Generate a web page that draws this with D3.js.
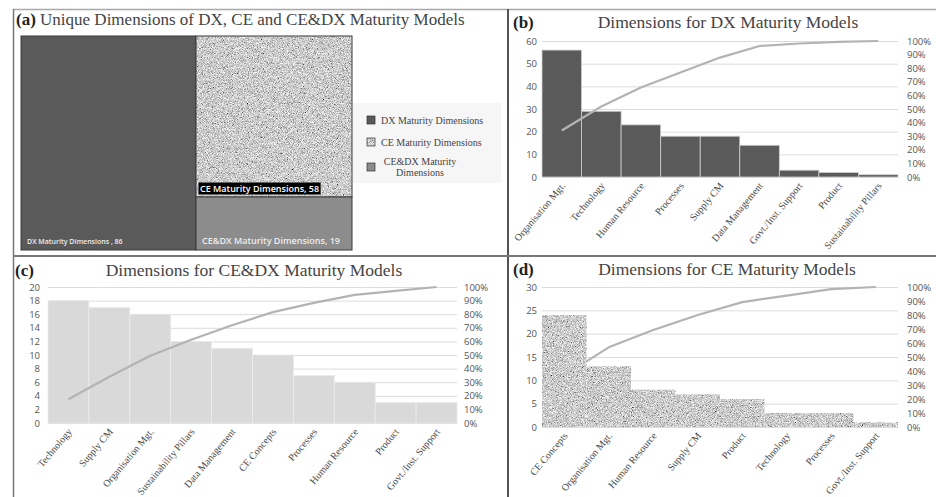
<!DOCTYPE html>
<html>
<head>
<meta charset="utf-8">
<script src="https://cdn.jsdelivr.net/npm/d3@7"></script>
<style>
  body { margin: 0; background: #fff; }
  svg { display: block; }
</style>
</head>
<body>
<div id="chart"></div>
<script>
// ---- data ----
const treeNames = ["DX Maturity Dimensions", "CE Maturity Dimensions", "CE&DX Maturity Dimensions"];
const treeValues = [86, 58, 19];

const dxCats = ["Organisation Mgt.", "Technology", "Human Resource", "Processes", "Supply CM",
  "Data Management", "Govt./Inst. Support", "Product", "Sustainability Pillars"];
const dxCounts = [56, 29, 23, 18, 18, 14, 3, 2, 1];

const cedxCats = ["Technology", "Supply CM", "Organisation Mgt.", "Sustainability Pillars", "Data Management",
  "CE Concepts", "Processes", "Human Resource", "Product", "Govt./Inst. Support"];
const cedxCounts = [18, 17, 16, 12, 11, 10, 7, 6, 3, 3];

const ceCats = ["CE Concepts", "Organisation Mgt.", "Human Resource", "Supply CM", "Product",
  "Technology", "Processes", "Govt./Inst. Support"];
const ceCounts = [24, 13, 8, 7, 6, 3, 3, 1];

const W = 936, H = 497;
const serif = "'Liberation Serif', 'Times New Roman', serif";
const sans = "'Open Sans', 'DejaVu Sans', sans-serif";

const svg = d3.select("#chart").append("svg")
  .attr("width", W).attr("height", H);

svg.append("rect").attr("width", W).attr("height", H).attr("fill", "#fff");

// grainy grey texture used for the CE marks
const defs = svg.append("defs");
const noise = defs.append("filter").attr("id", "grain")
  .attr("x", 0).attr("y", 0).attr("width", 1).attr("height", 1);
noise.append("feTurbulence").attr("type", "fractalNoise")
  .attr("baseFrequency", 1.2).attr("numOctaves", 2).attr("seed", 4).attr("result", "t");
noise.append("feColorMatrix").attr("in", "t").attr("type", "matrix")
  .attr("values", "0.8 0.8 0.8 0 -0.6  0.8 0.8 0.8 0 -0.6  0.8 0.8 0.8 0 -0.6  0 0 0 0 1")
  .attr("result", "g");
noise.append("feComposite").attr("in", "g").attr("in2", "SourceGraphic").attr("operator", "in");

// ---- panel frame ----
svg.append("line").attr("x1", 13).attr("x2", W).attr("y1", 9.5).attr("y2", 9.5)
  .attr("stroke", "#a8a8a8").attr("stroke-width", 1.5);
svg.append("line").attr("x1", 13.5).attr("x2", 13.5).attr("y1", 9).attr("y2", H)
  .attr("stroke", "#777").attr("stroke-width", 1.5);
svg.append("line").attr("x1", 508).attr("x2", 508).attr("y1", 9).attr("y2", H)
  .attr("stroke", "#555").attr("stroke-width", 2);
svg.append("line").attr("x1", 13).attr("x2", W).attr("y1", 256).attr("y2", 256)
  .attr("stroke", "#777").attr("stroke-width", 2.2);

// ---- (a) treemap ----
function drawTreemap() {
  const g = svg.append("g");
  g.append("text").attr("x", 16).attr("y", 25)
    .attr("font-family", serif).attr("font-size", 17)
    .call(t => {
      t.append("tspan").attr("font-weight", "bold").attr("fill", "#222").text("(a)");
      t.append("tspan").attr("fill", "#444").text(" Unique Dimensions of DX, CE and CE&DX Maturity Models");
    });

  const fills = ["#5a5a5a", "#a8a8a8", "#8c8c8c"];
  const root = d3.hierarchy({ children: treeNames.map((n, i) => ({ name: n, value: treeValues[i], i })) })
    .sum(d => d.value || 0);
  d3.treemap().tile(d3.treemapBinary).size([331, 214]).round(true)(root);

  const cells = g.append("g").attr("transform", "translate(21,36)")
    .selectAll("g").data(root.leaves()).join("g");
  cells.append("rect")
    .attr("x", d => d.x0).attr("y", d => d.y0)
    .attr("width", d => d.x1 - d.x0).attr("height", d => d.y1 - d.y0)
    .attr("fill", d => fills[d.data.i])
    .attr("filter", d => d.data.i === 1 ? "url(#grain)" : null);
  cells.append("rect")
    .attr("x", d => d.x0).attr("y", d => d.y0)
    .attr("width", d => d.x1 - d.x0).attr("height", d => d.y1 - d.y0)
    .attr("fill", "none").attr("stroke", "#3a3a3a").attr("stroke-width", 1);

  cells.each(function (d) {
    const c = d3.select(this);
    const label = d.data.i === 0 ? `${d.data.name} , ${d.data.value}` : `${d.data.name}, ${d.data.value}`;
    const t = c.append("text")
      .attr("x", d.x0 + 6).attr("y", d.y1 - 6)
      .attr("font-family", sans).attr("font-weight", 600)
      .attr("font-size", d.data.i === 0 ? 7 : 9)
      .attr("fill", "#ededed").text(label);
    if (d.data.i === 1) {
      t.attr("x", d.x0 + 4).attr("y", d.y1 - 5);
      const b = t.node().getBBox();
      c.insert("rect", "text")
        .attr("x", b.x - 1.5).attr("y", b.y + 0.5).attr("width", b.width + 3).attr("height", b.height - 1)
        .attr("fill", "#000");
      t.attr("fill", "#fff");
    }
  });

  // legend
  const lg = g.append("g");
  lg.append("rect").attr("x", 353).attr("y", 103).attr("width", 148).attr("height", 80).attr("fill", "#f6f6f6");
  const rows = [
    { lines: ["DX Maturity Dimensions"], y: 120, anchor: "start" },
    { lines: ["CE Maturity Dimensions"], y: 142, anchor: "start" },
    { lines: ["CE&DX Maturity", "Dimensions"], y: 167, anchor: "middle" }
  ];
  rows.forEach((r, i) => {
    lg.append("rect").attr("x", 367).attr("y", r.y - 4).attr("width", 8).attr("height", 8)
      .attr("fill", fills[i]).attr("stroke", "#333").attr("stroke-width", 0.7)
      .attr("filter", i === 1 ? "url(#grain)" : null);
    if (i === 1) {
      lg.append("rect").attr("x", 367).attr("y", r.y - 4).attr("width", 8).attr("height", 8)
        .attr("fill", "none").attr("stroke", "#333").attr("stroke-width", 0.7);
    }
    const t = lg.append("text").attr("font-family", serif).attr("font-size", 10).attr("fill", "#444")
      .attr("text-anchor", r.anchor);
    r.lines.forEach((ln, k) => {
      t.append("tspan")
        .attr("x", r.anchor === "middle" ? 420 : 381)
        .attr("y", r.y + 3.5 + (k - (r.lines.length - 1) / 2) * 10.5)
        .text(ln);
    });
  });
}

// ---- pareto panels ----
function drawPareto(cfg) {
  const g = svg.append("g");
  const x = d3.scaleBand().domain(cfg.cats).range([cfg.left, cfg.right]).padding(0);
  const y = d3.scaleLinear().domain([0, cfg.yMax]).range([cfg.bottom, cfg.top]);
  const yp = d3.scaleLinear().domain([0, 1]).range([cfg.bottom, cfg.top]);
  const yTicks = d3.range(0, cfg.yMax + cfg.step / 2, cfg.step);
  const pTicks = d3.range(0, 11).map(k => k / 10);

  g.append("text").attr("x", cfg.tagX).attr("y", cfg.titleY)
    .attr("font-family", serif).attr("font-size", 17).attr("font-weight", "bold")
    .attr("fill", "#222").text(cfg.tag);
  g.append("text").attr("x", cfg.titleX).attr("y", cfg.titleY)
    .attr("text-anchor", "middle")
    .attr("font-family", serif).attr("font-size", 17.5).attr("fill", "#444").text(cfg.title);

  // gridlines
  const grid = g.append("g").attr("transform", `translate(${cfg.left},0)`)
    .call(d3.axisLeft(y).tickValues(yTicks).tickSize(-(cfg.right - cfg.left)).tickFormat(""));
  grid.select(".domain").remove();
  grid.selectAll("line").attr("stroke", "#dcdcdc").attr("stroke-width", 1);

  // axes labels
  const la = g.append("g").attr("transform", `translate(${cfg.left - cfg.padL},0)`)
    .call(d3.axisLeft(y).tickValues(yTicks).tickSize(0).tickPadding(0));
  const ra = g.append("g").attr("transform", `translate(${cfg.rightLabelX},0)`)
    .call(d3.axisRight(yp).tickValues(pTicks).tickSize(0).tickPadding(0).tickFormat(d3.format(".0%")));
  [la, ra].forEach(a => {
    a.select(".domain").remove();
    a.selectAll("text").attr("font-family", sans).attr("font-size", 9.5).attr("fill", "#555");
  });

  let acc = 0;
  const total = d3.sum(cfg.counts);
  const cum = cfg.counts.map(v => (acc += v) / total);
  const line = d3.line()
    .x((d, i) => x(cfg.cats[i]) + x.bandwidth() / 2)
    .y(d => yp(d));

  const drawLine = () => g.append("path").datum(cum).attr("d", line)
    .attr("fill", "none").attr("stroke", "#b3b3b3").attr("stroke-width", 2.2)
    .attr("stroke-linejoin", "round");

  if (cfg.lineBehind) drawLine();

  g.append("g").selectAll("rect").data(cfg.counts).join("rect")
    .attr("x", (d, i) => x(cfg.cats[i]))
    .attr("y", d => y(d))
    .attr("width", x.bandwidth())
    .attr("height", d => cfg.bottom - y(d))
    .attr("fill", cfg.fill)
    .attr("stroke", cfg.stroke)
    .attr("stroke-width", cfg.stroke === "none" ? 0 : 0.8)
    .attr("filter", cfg.textured ? "url(#grain)" : null);

  if (!cfg.lineBehind) drawLine();

  g.append("g").selectAll("text").data(cfg.cats).join("text")
    .attr("transform", d => `translate(${x(d) + x.bandwidth() / 2 + 4},${cfg.bottom + 9}) rotate(-50)`)
    .attr("text-anchor", "end")
    .attr("font-family", serif).attr("font-size", 10).attr("fill", "#4a4a4a")
    .text(d => d);
}

drawTreemap();

drawPareto({
  tag: "(b)", title: "Dimensions for DX Maturity Models", tagX: 513, titleX: 728, titleY: 28,
  cats: dxCats, counts: dxCounts, yMax: 60, step: 10,
  left: 542, right: 898, top: 41, bottom: 177, padL: 5, rightLabelX: 907,
  fill: "#5a5a5a", stroke: "#cfcfcf", textured: false, lineBehind: false
});

drawPareto({
  tag: "(c)", title: "Dimensions for CE&DX Maturity Models", tagX: 15, titleX: 254, titleY: 276,
  cats: cedxCats, counts: cedxCounts, yMax: 20, step: 2,
  left: 48, right: 457, top: 287, bottom: 423, padL: 8, rightLabelX: 464,
  fill: "#d9d9d9", stroke: "#ececec", textured: false, lineBehind: false
});

drawPareto({
  tag: "(d)", title: "Dimensions for CE Maturity Models", tagX: 513, titleX: 727, titleY: 275,
  cats: ceCats, counts: ceCounts, yMax: 30, step: 5,
  left: 542, right: 898, top: 287, bottom: 427, padL: 5, rightLabelX: 907,
  fill: "#a0a0a0", stroke: "none", textured: true, lineBehind: true
});
</script>
</body>
</html>
